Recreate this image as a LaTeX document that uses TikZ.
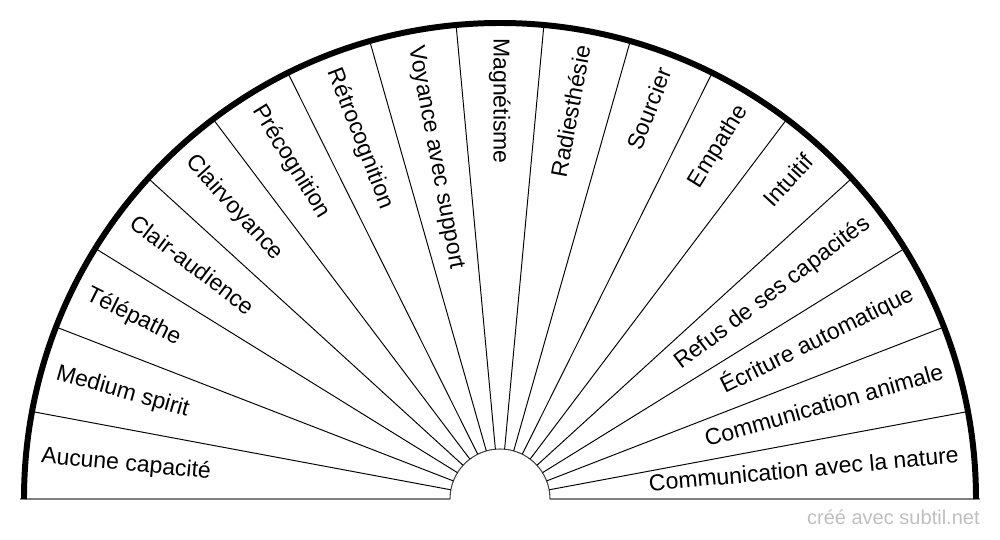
\documentclass[tikz,border=0pt]{standalone}
\usepackage{fontspec}
\setmainfont{Liberation Sans}
\usepackage{tikz}

\begin{document}
\begin{tikzpicture}[
  x=0.02cm,
  y=0.02cm,
  line join=round,
  rim/.style={
    line width=6pt*0.02/0.0352778,
    draw=black
  },
  spoke/.style={
    line width=0.55pt,
    draw=black
  },
  hub/.style={
    line width=0.6pt,
    draw=black!75
  },
  baseline/.style={
    line width=1.1pt,
    draw=black!50
  },
  sector/.style={
    font=\fontsize{13.1}{15}\selectfont,
    text height=0.72em,
    text depth=0pt,
    inner sep=0pt
  },
  credit/.style={
    font=\fontsize{11.4}{13}\selectfont,
    text=black!25,
    inner sep=0pt
  }
]

\useasboundingbox (-500,-41) rectangle (500,499);

% ------------------------------------------------
% Base line and hub
% ------------------------------------------------
\draw[baseline] (-480,0) -- (-50,0);
\draw[baseline] (50,0) -- (480,0);
\draw[hub] (50,0) arc[start angle=0, end angle=180, radius=50];

% ------------------------------------------------
% Spokes between the sectors
% ------------------------------------------------
\foreach \k in {1,...,16}
  \draw[spoke] ({\k*180/17}:50) -- ({\k*180/17}:476);

% Thick outer rim
\draw[rim] (476,0) arc[start angle=0, end angle=180, radius=476];

% ------------------------------------------------
% Sector labels, left to right
% ------------------------------------------------
\foreach \lab [count=\i] in {
  Aucune capacité,
  Medium spirit,
  Télépathe,
  Clair-audience,
  Clairvoyance,
  Précognition,
  Rétrocognition,
  Voyance avec support,
  Magnétisme,
  Radiesthésie,
  Sourcier,
  Empathe,
  Intuitif,
  Refus de ses capacités,
  Écriture automatique,
  Communication animale,
  Communication avec la nature}
{
  \pgfmathsetmacro\ang{180-(\i-0.5)*180/17}
  \ifnum\i<10
    \node[sector, anchor=west, rotate=\ang+180] (lab\i) at (\ang:461) {\lab};
  \else
    \node[sector, anchor=east, rotate=\ang] (lab\i) at (\ang:461) {\lab};
  \fi
}

% Footer
\node[credit, anchor=base east] (credit) at (480,-26) {créé avec subtil.net};

\end{tikzpicture}
\end{document}
